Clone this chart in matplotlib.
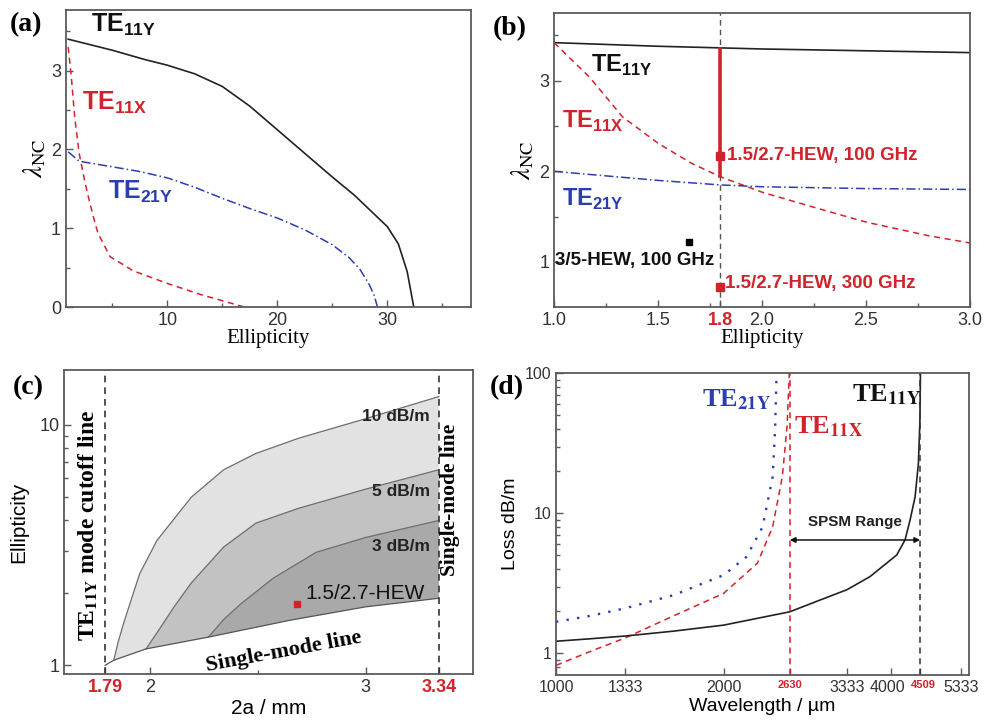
"""
four panel figure: cutoff wavelength / ellipticity / loss of HEW modes
"""
import matplotlib
matplotlib.use('Agg')
import matplotlib.pyplot as plt
import matplotlib.transforms as mtransforms
from matplotlib.ticker import NullLocator, FixedLocator, NullFormatter

plt.rcParams['font.family'] = ['Liberation Sans', 'DejaVu Sans']
plt.rcParams['mathtext.fontset'] = 'custom'
plt.rcParams['mathtext.rm'] = 'Liberation Sans'
plt.rcParams['mathtext.bf'] = 'Liberation Sans:bold'

RED = '#d1232b'
BLUE = '#2b3db0'
FRAME = '#5a5a5a'
SERIF = 'Liberation Serif'

###################################################
# panel (a) data

a_x_te11y = [1, 3, 5, 8, 10, 12.5, 15, 17.5, 20, 22.5, 25, 27, 28.5, 30, 31, 31.8, 32.4]
a_y_te11y = [3.40, 3.33, 3.26, 3.14, 3.07, 2.96, 2.80, 2.55, 2.25, 1.95, 1.65, 1.42,
             1.22, 1.02, 0.80, 0.45, 0.0]

a_x_te21y = [1, 2, 5, 7.5, 10, 12.5, 15, 17.5, 20, 22.5, 25, 26.5, 27.5, 28.3, 28.8, 29.1]
a_y_te21y = [1.97, 1.85, 1.78, 1.72, 1.64, 1.52, 1.38, 1.25, 1.13, 0.98, 0.79, 0.63,
             0.48, 0.30, 0.15, 0.0]

a_x_te11x = [1.0, 1.15, 1.3, 1.6, 2.0, 2.5, 2.9, 3.3, 3.7, 4.8, 6.9, 10, 13, 17]
a_y_te11x = [3.30, 3.10, 2.90, 2.40, 1.95, 1.60, 1.36, 1.14, 0.94, 0.64, 0.46, 0.30,
             0.16, 0.0]

# panel (b) data
b_x_te11y = [1.0, 1.5, 2.0, 2.5, 3.0]
b_y_te11y = [3.42, 3.38, 3.35, 3.33, 3.31]

b_x_te11x = [1.0, 1.17, 1.33, 1.5, 1.66, 1.8, 2.0, 2.3, 2.5, 2.8, 3.0]
b_y_te11x = [3.42, 3.04, 2.60, 2.31, 2.09, 1.94, 1.77, 1.57, 1.44, 1.29, 1.21]

b_x_te21y = [1.0, 1.5, 1.8, 2.0, 2.5, 3.0]
b_y_te21y = [2.00, 1.90, 1.85, 1.83, 1.81, 1.80]

b_design_x = 1.8
b_bar = [1.95, 3.35]
b_pt_100 = 2.17
b_pt_300 = 0.72
b_old_x, b_old_y = 1.65, 1.22

# panel (c) data
c_x_sm = [1.79, 1.83, 1.98, 2.27, 2.65, 3.0, 3.34]
c_y_sm = [1.0, 1.05, 1.17, 1.31, 1.54, 1.75, 1.90]

c_x_10 = [1.83, 1.85, 1.88, 1.95, 2.03, 2.19, 2.34, 2.49, 2.69, 3.0, 3.34]
c_y_10 = [1.05, 1.25, 1.54, 2.40, 3.30, 5.00, 6.50, 7.60, 8.80, 10.6, 13.1]

c_x_5 = [1.98, 2.05, 2.11, 2.19, 2.34, 2.49, 2.69, 3.0, 3.34]
c_y_5 = [1.17, 1.45, 1.75, 2.20, 3.10, 3.90, 4.50, 5.40, 6.50]

c_x_3 = [2.27, 2.34, 2.42, 2.57, 2.77, 3.0, 3.34]
c_y_3 = [1.31, 1.55, 1.80, 2.30, 2.95, 3.40, 4.00]

c_hew = (2.68, 1.79)
c_cut = [1.79, 3.34]

# panel (d) data
d_x_te11y = [1000, 1151, 1333, 1625, 2000, 2630, 2979, 3333, 3664, 4093, 4236, 4325,
             4416, 4477, 4505, 4515]
d_y_te11y = [1.22, 1.27, 1.33, 1.44, 1.59, 1.98, 2.40, 2.85, 3.53, 5.04, 6.45, 8.95,
             13.1, 22.7, 46, 100]

d_x_te11x = [1000, 1151, 1333, 1625, 2000, 2300, 2450, 2550, 2600, 2625]
d_y_te11x = [0.82, 1.03, 1.29, 1.85, 2.68, 4.4, 8.0, 18.2, 41.5, 100]

d_x_te21y = [1000, 1151, 1333, 1625, 2000, 2200, 2350, 2450, 2475, 2490]
d_y_te21y = [1.68, 1.85, 2.10, 2.60, 3.62, 4.9, 8.0, 18.2, 40, 100]

d_ticks = [1000, 1333, 2000, 2630, 3333, 4000, 4509, 5333]
d_spsm = [2630, 4509]


def style_axes(ax):
    for sp in ax.spines.values():
        sp.set_color(FRAME)
        sp.set_linewidth(1.3)
    ax.tick_params(which='both', direction='in', color=FRAME, width=1,
                   top=False, right=False)
    ax.tick_params(which='major', length=5, labelsize=13, labelcolor='#333333')
    ax.tick_params(which='minor', length=3)


def mode_label(ax, x, y, txt, sub, color, size, serif=False, **kw):
    s = txt + r'$_\mathbf{' + sub + '}$'
    if serif:
        ax.text(x, y, s, color=color, fontsize=size, fontweight='bold',
                family=SERIF, math_fontfamily='stix', **kw)
    else:
        ax.text(x, y, s, color=color, fontsize=size, fontweight='bold', **kw)


fig = plt.figure(figsize=(9.86, 7.27), dpi=100)

ax_a = fig.add_axes([0.0669, 0.5777, 0.4108, 0.4085])
ax_b = fig.add_axes([0.5619, 0.5773, 0.4219, 0.4052])
ax_c = fig.add_axes([0.0652, 0.0729, 0.4148, 0.4182])
ax_d = fig.add_axes([0.5639, 0.0715, 0.4189, 0.4150])

###################################################
# (a)
ax_a.plot(a_x_te11y, a_y_te11y, color='#222222', lw=1.2)
ax_a.plot(a_x_te11x, a_y_te11x, color=RED, lw=1.1, ls=(0, (4, 3)))
ax_a.plot(a_x_te21y, a_y_te21y, color=BLUE, lw=1.1, ls=(0, (6, 2, 1, 2)))
ax_a.set_xlim(0.8, 37.6)
ax_a.set_ylim(0, 3.77)
ax_a.set_xticks([10, 20, 30])
ax_a.set_xticks([5, 15, 25, 35], minor=True)
ax_a.set_yticks([0, 1, 2, 3])
ax_a.set_yticks([0.5, 1.5, 2.5, 3.5], minor=True)
style_axes(ax_a)
ax_a.set_xlabel('Ellipticity', family=SERIF, fontsize=15, labelpad=0)
ax_a.set_ylabel(r'$\lambda_{\mathrm{NC}}$', math_fontfamily='stix', fontsize=19, labelpad=2)
mode_label(ax_a, 3.1, 3.5, 'TE', '11Y', '#111111', 18)
mode_label(ax_a, 2.3, 2.5, 'TE', '11X', RED, 18)
mode_label(ax_a, 4.6, 1.37, 'TE', '21Y', BLUE, 18)
fig.text(0.010, 0.957, '(a)', family=SERIF, fontweight='bold', fontsize=20)

###################################################
# (b)
ax_b.axvline(b_design_x, color='#555555', lw=1, ls=(0, (4, 3)))
ax_b.plot(b_x_te11y, b_y_te11y, color='#222222', lw=1.2)
ax_b.plot(b_x_te11x, b_y_te11x, color=RED, lw=1.1, ls=(0, (4, 3)))
ax_b.plot(b_x_te21y, b_y_te21y, color=BLUE, lw=1.1, ls=(0, (6, 2, 1, 2)))
ax_b.plot([b_design_x, b_design_x], b_bar, color=RED, lw=2.6)
ax_b.plot([b_design_x], [b_pt_100], 's', color=RED, ms=5.5)
ax_b.plot([b_design_x], [b_pt_300], 's', color=RED, ms=5.5)
ax_b.plot([b_old_x], [b_old_y], 's', color='black', ms=5)
ax_b.set_xlim(1.0, 3.0)
ax_b.set_ylim(0.5, 3.75)
ax_b.set_xticks([1.0, 1.5, 1.8, 2.0, 2.5, 3.0])
ax_b.set_xticklabels(['1.0', '1.5', '1.8', '2.0', '2.5', '3.0'])
ax_b.set_xticks([1.25, 1.75, 2.25, 2.75], minor=True)
ax_b.set_yticks([1, 2, 3])
ax_b.set_yticks([1.5, 2.5, 3.5], minor=True)
style_axes(ax_b)
ax_b.get_xticklabels()[2].set_color(RED)
ax_b.get_xticklabels()[2].set_fontweight('bold')
ax_b.set_xlabel('Ellipticity', family=SERIF, fontsize=15, labelpad=0)
ax_b.set_ylabel(r'$\lambda_{\mathrm{NC}}$', math_fontfamily='stix', fontsize=19, labelpad=2)
mode_label(ax_b, 1.18, 3.1, 'TE', '11Y', '#111111', 17)
mode_label(ax_b, 1.04, 2.48, 'TE', '11X', RED, 17)
mode_label(ax_b, 1.04, 1.62, 'TE', '21Y', BLUE, 17)
ax_b.text(1.83, b_pt_100, '1.5/2.7-HEW, 100 GHz', color=RED, fontsize=13.5,
          fontweight='bold', va='center')
ax_b.text(1.82, b_pt_300 + 0.04, '1.5/2.7-HEW, 300 GHz', color=RED, fontsize=13.5,
          fontweight='bold', va='center')
ax_b.text(1.005, 1.02, '3/5-HEW, 100 GHz', color='#111111', fontsize=13.5,
          fontweight='bold', va='center')
fig.text(0.500, 0.952, '(b)', family=SERIF, fontweight='bold', fontsize=20)

###################################################
# (c)
fills = [(c_x_10, c_y_10, '#e2e2e2'), (c_x_5, c_y_5, '#c2c2c2'),
         (c_x_3, c_y_3, '#a9a9a9')]
for cx, cy, col in fills:
    lower_x = [x for x in c_x_sm if x > cx[0]][::-1]
    lower_y = [y for x, y in zip(c_x_sm, c_y_sm) if x > cx[0]][::-1]
    ax_c.fill(list(cx) + lower_x, list(cy) + lower_y, color=col, lw=0)
    ax_c.plot(cx, cy, color='#6e6e6e', lw=0.9)
ax_c.plot(c_x_sm, c_y_sm, color='#555555', lw=0.9)
for xc in c_cut:
    ax_c.axvline(xc, color='#333333', lw=1.2, ls=(0, (4, 3)))
ax_c.plot([c_hew[0]], [c_hew[1]], 's', color=RED, ms=4)
ax_c.set_yscale('log')
ax_c.set_xlim(1.6, 3.5)
ax_c.set_ylim(0.92, 16.9)
ax_c.set_xticks([1.79, 2, 3, 3.34])
ax_c.set_xticklabels(['1.79', '2', '3', '3.34'])
ax_c.set_xticks([2.5], minor=True)
ax_c.yaxis.set_major_locator(FixedLocator([1, 10]))
ax_c.set_yticklabels(['1', '10'])
ax_c.yaxis.set_minor_locator(FixedLocator([2, 3, 4, 5, 6, 7, 8, 9]))
ax_c.yaxis.set_minor_formatter(NullFormatter())
style_axes(ax_c)
for i in (0, 3):
    ax_c.get_xticklabels()[i].set_color(RED)
    ax_c.get_xticklabels()[i].set_fontweight('bold')
ax_c.set_xlabel('2a / mm', fontsize=15, labelpad=2)
ax_c.set_ylabel('Ellipticity', fontsize=15, labelpad=8)
ax_c.text(3.30, 10.8, '10 dB/m', fontsize=12.5, fontweight='bold', ha='right',
          va='center', color='#222222')
ax_c.text(3.30, 5.28, '5 dB/m', fontsize=12.5, fontweight='bold', ha='right',
          va='center', color='#222222')
ax_c.text(3.30, 3.11, '3 dB/m', fontsize=12.5, fontweight='bold', ha='right',
          va='center', color='#222222')
ax_c.text(2.72, 1.98, '1.5/2.7-HEW', fontsize=15, ha='left', va='center',
          color='#111111')
ax_c.text(2.62, 1.14, 'Single-mode line', family=SERIF, fontweight='bold',
          fontsize=16, rotation=10.5, ha='center', va='center')
ax_c.text(1.713, 3.83, r'TE$_\mathbf{11Y}$ mode cutoff line', family=SERIF,
          fontweight='bold', math_fontfamily='stix', fontsize=17,
          rotation=90, ha='center', va='center')
ax_c.text(3.39, 4.87, 'Single-mode line', family=SERIF, fontweight='bold',
          fontsize=15.5, rotation=90, ha='center', va='center')
fig.text(0.013, 0.458, '(c)', family=SERIF, fontweight='bold', fontsize=20)

###################################################
# (d)
ax_d.plot(d_x_te21y, d_y_te21y, color=BLUE, lw=1.7, ls=(0, (1, 3.5)))
ax_d.plot(d_x_te11x, d_y_te11x, color=RED, lw=1.1, ls=(0, (4, 3)))
ax_d.plot(d_x_te11y, d_y_te11y, color='#222222', lw=1.2)
ax_d.axvline(d_spsm[0], color=RED, lw=1.1, ls=(0, (4, 3)))
ax_d.axvline(d_spsm[1], color='#333333', lw=1.1, ls=(0, (4, 3)))
ax_d.annotate('', xy=(d_spsm[0], 6.45), xytext=(d_spsm[1], 6.45),
              arrowprops=dict(arrowstyle='<|-|>', color='#111111', lw=1.1,
                              mutation_scale=8, shrinkA=0, shrinkB=0))
ax_d.text(3440, 8.6, 'SPSM Range', fontsize=11, fontweight='bold',
          ha='center', va='center', color='#222222')
ax_d.set_xscale('log')
ax_d.set_yscale('log')
ax_d.set_xlim(1000, 5520)
ax_d.set_ylim(0.70, 100)
ax_d.xaxis.set_major_locator(FixedLocator(d_ticks))
ax_d.xaxis.set_minor_locator(NullLocator())
ax_d.set_xticklabels([str(t) for t in d_ticks])
ax_d.yaxis.set_major_locator(FixedLocator([1, 10, 100]))
ax_d.set_yticklabels(['1', '10', '100'])
ax_d.yaxis.set_minor_locator(FixedLocator([0.8, 0.9, 2, 3, 4, 5, 6, 7, 8, 9,
                                           20, 30, 40, 50, 60, 70, 80, 90]))
ax_d.yaxis.set_minor_formatter(NullFormatter())
style_axes(ax_d)
ax_d.tick_params(which='major', labelsize=11.5)
for i in (3, 6):
    lab = ax_d.get_xticklabels()[i]
    lab.set_color(RED)
    lab.set_fontweight('bold')
    lab.set_fontsize(8)
# nudge the crowded labels apart
for i, dx in ((5, -4), (6, 3)):
    lab = ax_d.get_xticklabels()[i]
    lab.set_transform(lab.get_transform() +
                      mtransforms.ScaledTranslation(dx / 100, 0, fig.dpi_scale_trans))
ax_d.set_xlabel('Wavelength / µm', fontsize=14, labelpad=2)
ax_d.set_ylabel('Loss dB/m', fontsize=14, labelpad=4)
mode_label(ax_d, 2430, 58, 'TE', '21Y', BLUE, 19, serif=True, ha='right')
mode_label(ax_d, 2680, 37, 'TE', '11X', RED, 19, serif=True)
mode_label(ax_d, 3400, 63, 'TE', '11Y', '#111111', 19, serif=True)
fig.text(0.497, 0.458, '(d)', family=SERIF, fontweight='bold', fontsize=20)

plt.savefig('out.png', dpi=100)
